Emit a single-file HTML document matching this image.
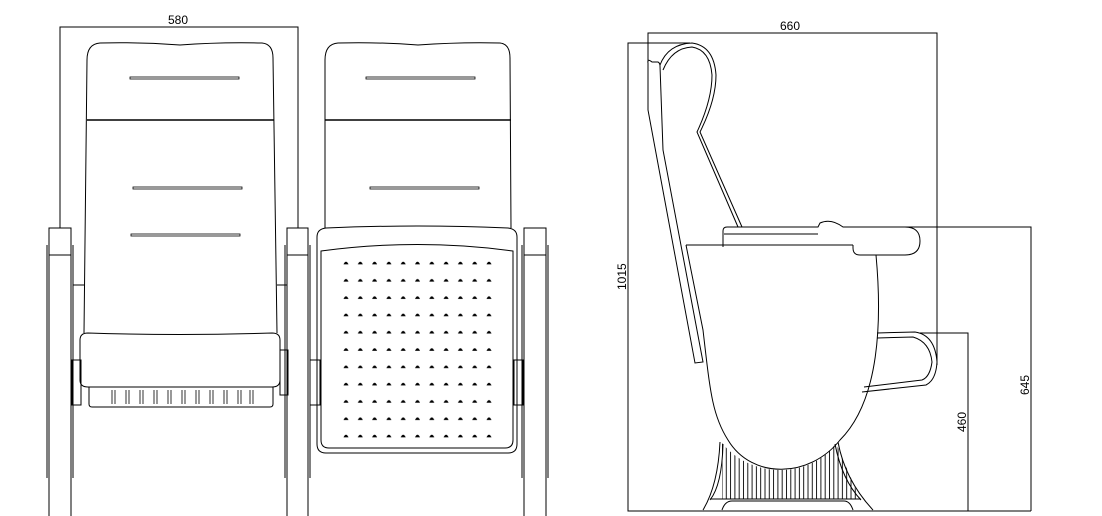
<!DOCTYPE html>
<html><head><meta charset="utf-8"><style>
html,body{margin:0;padding:0;background:#fff;}
svg{display:block;}
text{font-family:"Liberation Sans",sans-serif;font-size:12px;fill:#000;}
</style></head><body>
<svg width="1102" height="516" viewBox="0 0 1102 516" xmlns="http://www.w3.org/2000/svg" fill="none" stroke="#000" stroke-width="1">
<defs><pattern id="dp" x="343" y="260" width="14.3" height="17.3" patternUnits="userSpaceOnUse"><path d="M1,4 Q3,0 5,4 Z" fill="#000" stroke="#000" stroke-width="0.6"/></pattern>
<pattern id="hp" x="721" y="0" width="4.3" height="10" patternUnits="userSpaceOnUse"><line x1="1" y1="0" x2="1" y2="10" stroke="#000" stroke-width="0.9"/></pattern></defs>
<!-- ===== FRONT VIEW ===== -->
<polyline points="60,228 60,27 298,27 298,228"/>
<text x="168" y="24" stroke="none">580</text>

<path d="M84,333 L87,60 Q87,44 100,43 Q140,42 180,45 Q220,42 262,43 Q273,44 273,58 L277,333"/>
<line x1="87" y1="120" x2="274" y2="120" stroke-width="1.5"/>
<rect x="130" y="77" width="109" height="2" stroke-width="0.8"/>
<rect x="133" y="187" width="109" height="2" stroke-width="0.8"/>
<rect x="131" y="234" width="109" height="2" stroke-width="0.8"/>
<path d="M80,340 Q80,333 88,333 Q180,336 272,333 Q280,333 280,340 L280,380 Q280,387 272,387 L88,387 Q80,387 80,380 Z"/>
<path d="M89,387 L89,404 Q89,407 92,407 L270,407 Q273,407 273,404 L273,387"/>
<path stroke-width="0.8" d="M112,390 v14 M115,390 v14 M126,390 v14 M129,390 v14 M140,390 v14 M143,390 v14 M154,390 v14 M157,390 v14 M168,390 v14 M171,390 v14 M182,390 v14 M185,390 v14 M196,390 v14 M199,390 v14 M210,390 v14 M213,390 v14 M224,390 v14 M227,390 v14 M238,390 v14 M241,390 v14 M250,390 v14 M253,390 v14"/>
<rect x="72" y="360" width="9" height="45"/>
<rect x="280" y="350" width="8" height="45"/>
<line x1="73" y1="285" x2="84" y2="285"/><line x1="277" y1="285" x2="287" y2="285"/>

<path d="M49,516 L49,228 L71,228 L71,516 M49,255 L71,255"/>
<path d="M47,245 L47,478 M73,245 L73,478"/>
<path d="M287,516 L287,228 L308,228 L308,516 M287,255 L308,255"/>
<path d="M285,245 L285,478 M310,245 L310,478"/>
<path d="M524,516 L524,228 L546,228 L546,516 M524,255 L546,255"/>
<path d="M522,245 L522,478 M548,245 L548,478"/>

<path d="M325,228 L325,60 Q325,44 338,43 Q380,42 418,45 Q460,42 500,43 Q510,44 510,58 L511,228"/>
<line x1="325" y1="120" x2="511" y2="120" stroke-width="1.5"/>
<rect x="366" y="77" width="109" height="2" stroke-width="0.8"/>
<rect x="370" y="187" width="109" height="2" stroke-width="0.8"/>
<path d="M317,237 Q317,229 326,228 Q418,224 508,228 Q517,229 517,237 L517,444 Q517,453 508,453 L326,453 Q317,453 317,444 Z"/>
<path d="M321,251 Q418,238 513,251 L513,440 Q513,448 505,448 L329,448 Q321,448 321,440 Z"/>
<rect x="343" y="260" width="157" height="190" fill="url(#dp)" stroke="none"/>
<rect x="310" y="360" width="10" height="45"/>
<rect x="514" y="360" width="9" height="45"/>

<!-- ===== SIDE VIEW ===== -->
<polyline points="648,62 648,33 937,33 937,365"/>
<text x="780" y="30" stroke="none">660</text>
<polyline points="690,43 628,43 628,511 1031,511"/>
<text transform="translate(626,290) rotate(-90)" stroke="none">1015</text>
<polyline points="900,227 1031,227 1031,511"/>
<text transform="translate(1029,395) rotate(-90)" stroke="none">645</text>
<polyline points="920,333 968,333 968,511"/>
<text transform="translate(966,432) rotate(-90)" stroke="none">460</text>

<path d="M648,63 Q647,58 652,62 L658,62 Q660,63 660,66 L663,150 L703,362 L695,363 L648,110 Z"/>
<path d="M660,65 Q668,44 692,43 Q714,46 716,75 Q716,100 700,132 L742,227"/>
<path d="M663,70 Q672,48 692,47 Q710,50 712,75 Q712,100 697,132 L738,227"/>
<path d="M723,247 L723,231 Q723,227 727,227 L818,227 L820,223 Q831,218 843,227 L905,227 Q920,227 920,241 Q920,255 905,255 L860,255 Q853,255 853,248 L853,245"/>
<line x1="724" y1="234" x2="818" y2="234"/>
<path d="M686,245 L853,245 M876,255 C882,320 880,400 840,440 C810,478 752,480 728,440 C712,415 710,390 703,330 L686,245"/>
<path d="M877,333 L915,332 Q935,335 937,362 Q936,380 926,385 L862,392"/>
<path d="M877,338 L913,337 Q930,342 932,362 Q930,377 922,380 L864,387"/>
<!-- base legs -->
<path d="M720,442 Q718,485 703,510 M723,444 Q722,485 710,500"/>
<path d="M838,442 Q845,480 873,510 M835,444 Q842,480 861,500"/>
<path d="M722,443 L722,499 L860,499 L836,443 C812,478 752,480 722,443 Z" fill="url(#hp)" stroke="none"/>
<line x1="710" y1="499" x2="861" y2="499"/>
<path d="M722,510 Q725,501 732,501 L844,501 Q850,501 853,510"/>
</svg>
</body></html>
